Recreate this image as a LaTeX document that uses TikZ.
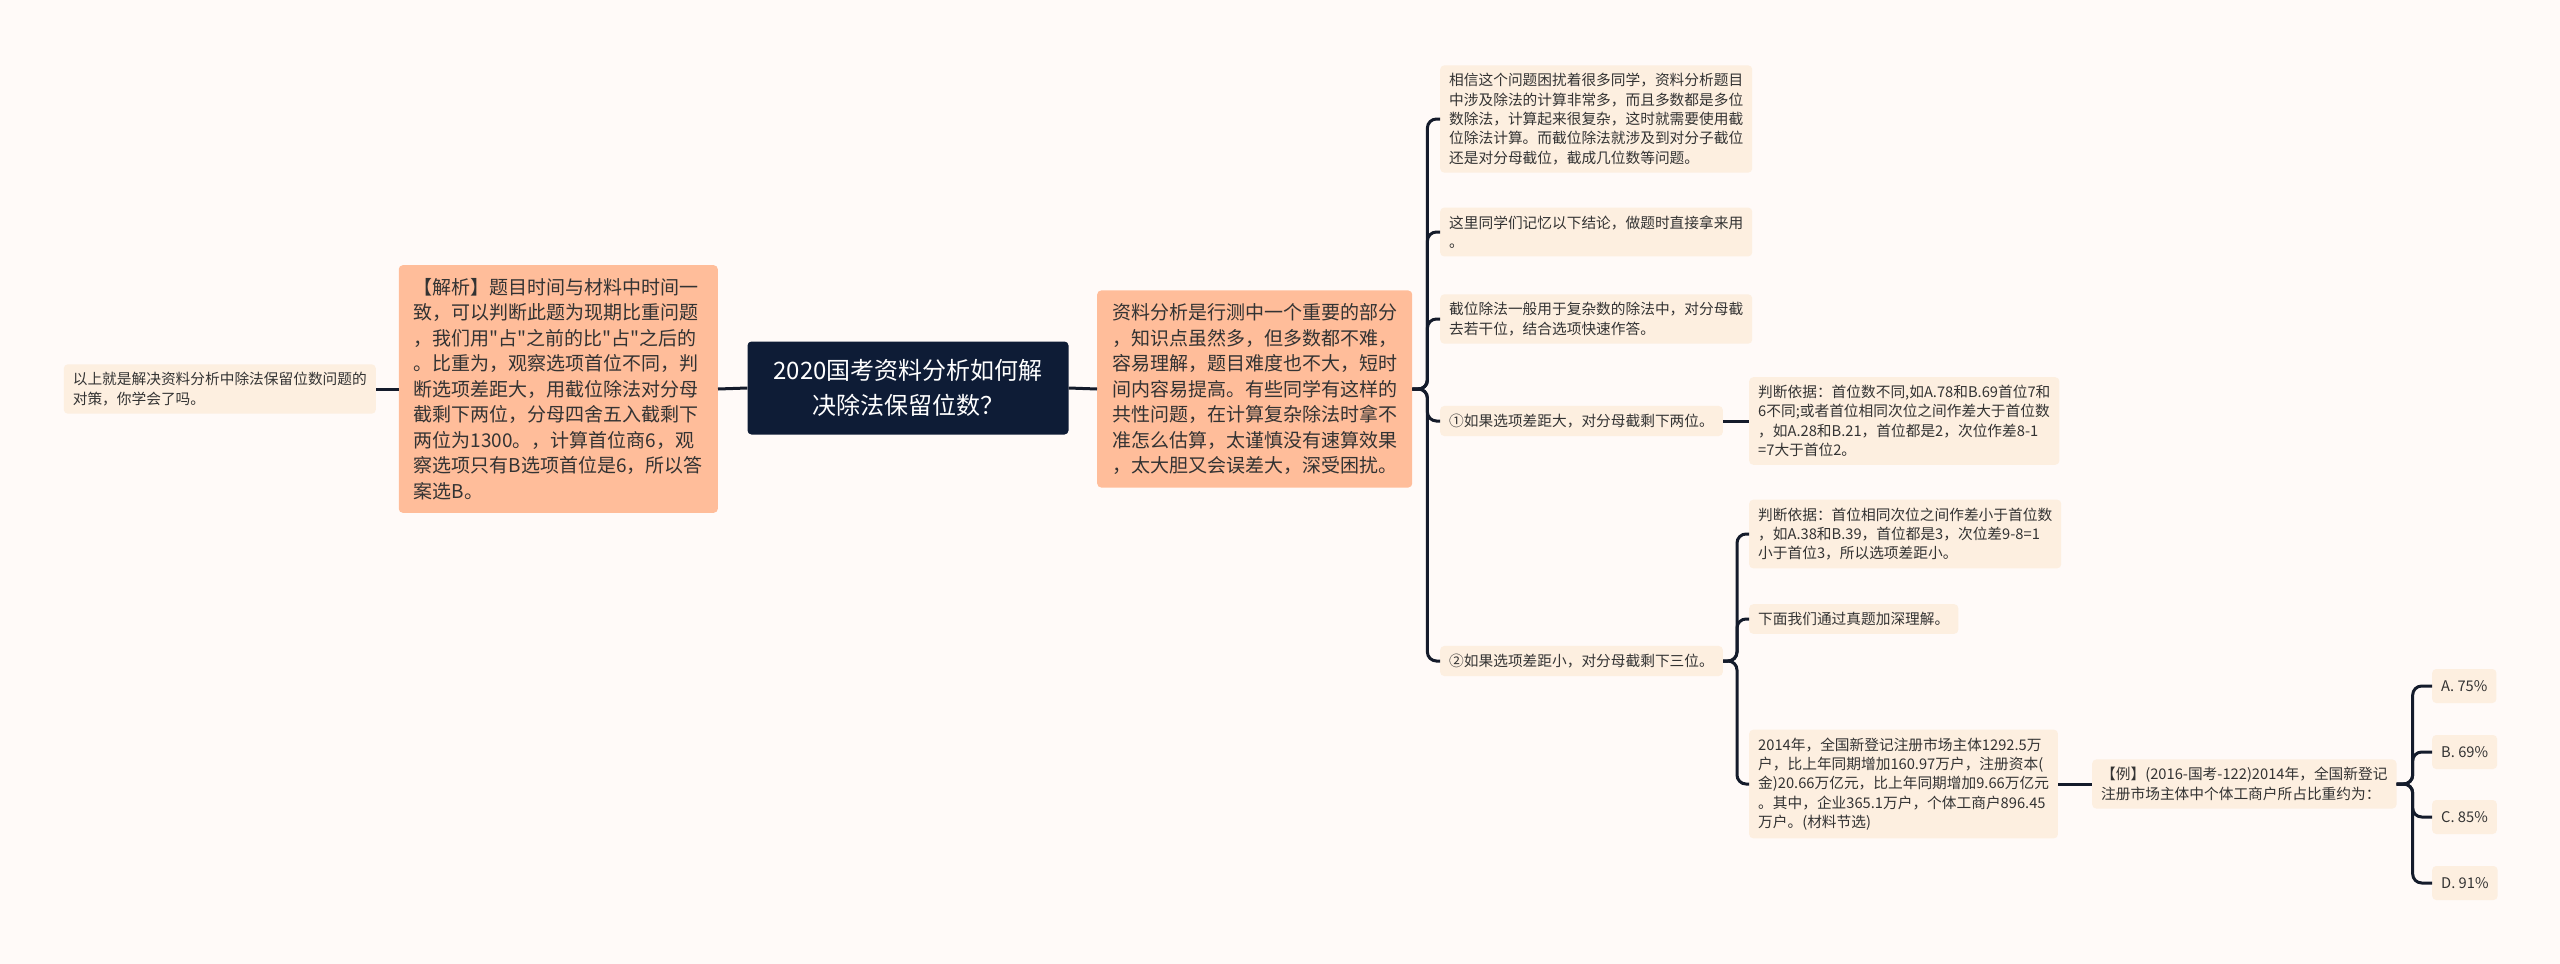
\documentclass[tikz,border=0pt]{standalone}
\usepackage{fontspec}
\newfontfamily\cjkfont{Noto Sans CJK SC}
\usetikzlibrary{positioning}
\definecolor{navy}{HTML}{0E1C36}
\definecolor{salmon}{HTML}{FFBD9A}
\definecolor{cream}{HTML}{FDEFE0}
\definecolor{paper}{HTML}{FFFAF8}
\definecolor{wire}{HTML}{141B2B}

\begin{document}
\begin{tikzpicture}[x=1pt, y=-1pt,
  hub/.style={fill=navy, text=white, rounded corners=4pt, minimum width=321pt, minimum height=93pt, align=center, font=\cjkfont\fontsize{24}{35}\selectfont},
  sal/.style={fill=salmon, text=black!80, rounded corners=4pt, inner xsep=15pt, inner ysep=13pt, align=left, font=\cjkfont\fontsize{19}{25.5}\selectfont},
  leaf/.style={fill=cream, text=black!80, rounded corners=4pt, inner xsep=9pt, inner ysep=8pt, align=left, font=\cjkfont\fontsize{14.7}{19.3}\selectfont},
  opt/.style={leaf, minimum height=34pt},
  link/.style={draw=wire, line width=3pt, rounded corners=9pt}
]
  \fill[paper] (0,0) rectangle (2560,964);
  \useasboundingbox (0,0) rectangle (2560,964);

  % centre and left side
  \node[hub] (core) at (908,388) {2020国考资料分析如何解\\决除法保留位数？};
  \node[sal, anchor=east] (ana) at (718,389) {【解析】题目时间与材料中时间一\\致，可以判断此题为现期比重问题\\，我们用"占"之前的比"占"之后的\\。比重为，观察选项首位不同，判\\断选项差距大，用截位除法对分母\\截剩下两位，分母四舍五入截剩下\\两位为1300。，计算首位商6，观\\察选项只有B选项首位是6，所以答\\案选B。};
  \node[leaf, anchor=east] (endl) at (376,389) {以上就是解决资料分析中除法保留位数问题的\\对策，你学会了吗。};

  % right side
  \node[sal, anchor=west] (intro) at (1097,389) {资料分析是行测中一个重要的部分\\，知识点虽然多，但多数都不难，\\容易理解，题目难度也不大，短时\\间内容易提高。有些同学有这样的\\共性问题，在计算复杂除法时拿不\\准怎么估算，太谨慎没有速算效果\\，太大胆又会误差大，深受困扰。};

  \node[leaf, anchor=west] (l1) at (1440,119) {相信这个问题困扰着很多同学，资料分析题目\\中涉及除法的计算非常多，而且多数都是多位\\数除法，计算起来很复杂，这时就需要使用截\\位除法计算。而截位除法就涉及到对分子截位\\还是对分母截位，截成几位数等问题。};
  \node[leaf, anchor=west] (l2) at (1440,232) {这里同学们记忆以下结论，做题时直接拿来用\\。};
  \node[leaf, anchor=west] (l3) at (1440,319) {截位除法一般用于复杂数的除法中，对分母截\\去若干位，结合选项快速作答。};
  \node[leaf, anchor=west] (big1) at (1440,421) {①如果选项差距大，对分母截剩下两位。};
  \node[leaf, anchor=west] (big2) at (1440,661) {②如果选项差距小，对分母截剩下三位。};

  \node[leaf, anchor=west] (j1) at (1749,421) {判断依据：首位数不同,如A.78和B.69首位7和\\6不同;或者首位相同次位之间作差大于首位数\\，如A.28和B.21，首位都是2，次位作差8-1\\=7大于首位2。};
  \node[leaf, anchor=west] (j2) at (1749,534) {判断依据：首位相同次位之间作差小于首位数\\，如A.38和B.39，首位都是3，次位差9-8=1\\小于首位3，所以选项差距小。};
  \node[leaf, anchor=west] (next) at (1749,619) {下面我们通过真题加深理解。};
  \node[leaf, anchor=west] (mat) at (1749,784) {2014年，全国新登记注册市场主体1292.5万\\户，比上年同期增加160.97万户，注册资本(\\金)20.66万亿元，比上年同期增加9.66万亿元\\。其中，企业365.1万户，个体工商户896.45\\万户。(材料节选)};

  \node[leaf, anchor=west] (ex) at (2092,784) {【例】(2016-国考-122)2014年，全国新登记\\注册市场主体中个体工商户所占比重约为：};
  \node[opt, anchor=west] (optA) at (2432,686) {A. 75\%};
  \node[opt, anchor=west] (optB) at (2432,752) {B. 69\%};
  \node[opt, anchor=west] (optC) at (2432,817) {C. 85\%};
  \node[opt, anchor=west] (optD) at (2432,883) {D. 91\%};

  % connectors
  \draw[link] (endl.east) -- (ana.west);
  \draw[link] (ana.east) -- (core.west);
  \draw[link] (core.east) -- (intro.west);
  \foreach \c in {l1, l2, l3, big1, big2}
    \draw[link] (intro.east) -- ++(15,0) |- (\c.west);
  \draw[link] (big1.east) -- (j1.west);
  \foreach \c in {j2, next, mat}
    \draw[link] (big2.east) -- ++(14,0) |- (\c.west);
  \draw[link] (mat.east) -- (ex.west);
  \foreach \c in {optA, optB, optC, optD}
    \draw[link] (ex.east) -- ++(16,0) |- (\c.west);
\end{tikzpicture}
\end{document}
